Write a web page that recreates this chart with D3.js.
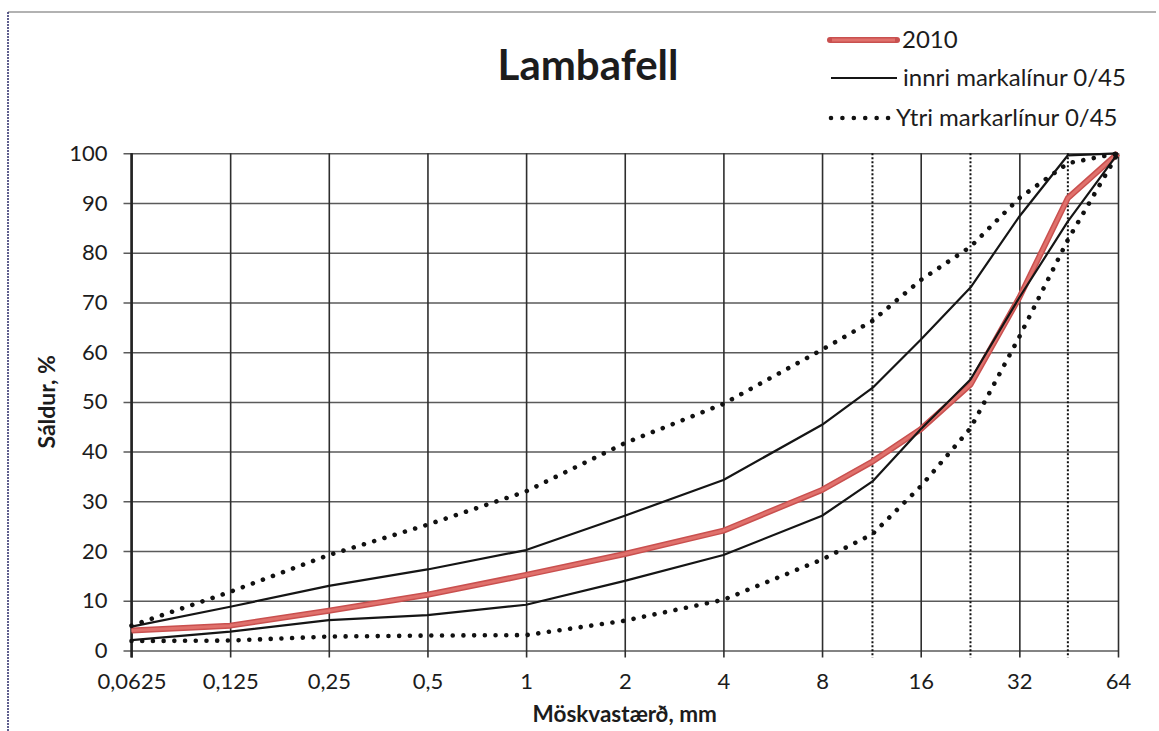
<!DOCTYPE html>
<html>
<head>
<meta charset="utf-8">
<script src="https://cdn.jsdelivr.net/npm/d3@7"></script>
<style>
  body { margin: 0; background: #fff; }
  text { font-family: Lato, "Open Sans", sans-serif; fill: #1c1c1c; }
</style>
</head>
<body>
<svg id="chart" width="1159" height="731"></svg>
<script>
// Sieve sizes (mm) and passing percentages
const sieveSizes = [0.0625, 0.125, 0.25, 0.5, 1, 2, 4, 8, 11.4, 16, 22.7, 32, 45, 64];
const sample2010 = [4, 5, 8, 11.2, 15.2, 19.4, 24.1, 32.3, 38, 44.5, 53.5, 71, 91, 100];
const innerUpper = [4.8, 8.8, 13, 16.3, 20.2, 27.1, 34.3, 45.4, 52.8, 62.5, 73, 87.3, 99.6, 100];
const innerLower = [2.1, 3.8, 6.1, 7.1, 9.2, 14, 19.2, 27.1, 34, 44.5, 54.5, 71, 86.3, 100];
const outerUpper = [5, 11.8, 19.2, 25.3, 32, 41.7, 49.6, 60.5, 66.3, 74.5, 81.2, 91, 98, 100];
const outerLower = [1.9, 2, 2.8, 3, 3.1, 6, 10.2, 18.3, 23.4, 33, 44.7, 63.1, 82.6, 100];

// Axis ticks
const xTicks = [0.0625, 0.125, 0.25, 0.5, 1, 2, 4, 8, 16, 32, 64];
const xTickLabels = ["0,0625", "0,125", "0,25", "0,5", "1", "2", "4", "8", "16", "32", "64"];
const limitSieves = [11.4, 22.7, 45];
const yTicks = [0, 10, 20, 30, 40, 50, 60, 70, 80, 90, 100];

const legendLabels = ["2010", "innri markalínur 0/45", "Ytri markarlínur 0/45"];

const svg = d3.select("#chart");
const plot = { left: 131.5, right: 1118, top: 153.3, bottom: 650.5 };

const x = d3.scaleLog().base(2).domain([0.0625, 64]).range([plot.left, plot.right]);
const y = d3.scaleLinear().domain([0, 100]).range([plot.bottom, plot.top]);

// Page frame
svg.append("line").attr("x1", 8).attr("x2", 1156).attr("y1", 12).attr("y2", 12)
  .attr("stroke", "#666").attr("stroke-width", 1.2);
svg.append("line").attr("x1", 8).attr("x2", 8).attr("y1", 12).attr("y2", 731)
  .attr("stroke", "#2a2a6a").attr("stroke-width", 1.5).attr("stroke-dasharray", "2,1");

// Horizontal gridlines with tick stubs
const yAxis = d3.axisLeft(y).tickValues(yTicks).tickSize(plot.right - plot.left + 8)
  .tickPadding(16).tickFormat(d3.format("d"));
const gy = svg.append("g").attr("transform", `translate(${plot.right},0)`).call(yAxis);
gy.select(".domain").remove();
gy.selectAll(".tick line").attr("stroke", "#5a5a5a").attr("stroke-width", 1.5);
gy.selectAll(".tick text").attr("font-size", 22).style("font-family", "Lato, sans-serif").attr("fill", "#1c1c1c");

// Vertical gridlines with tick stubs
const xAxis = d3.axisBottom(x).tickValues(xTicks).tickSize(plot.bottom - plot.top + 7)
  .tickPadding(16).tickFormat((d, i) => xTickLabels[i]);
const gx = svg.append("g").attr("transform", `translate(0,${plot.top})`).call(xAxis);
gx.select(".domain").remove();
gx.selectAll(".tick line").attr("stroke", "#2e2e2e").attr("stroke-width", 1.6);
gx.selectAll(".tick text").attr("font-size", 22).style("font-family", "Lato, sans-serif").attr("fill", "#1c1c1c");

// Dotted limit sieves
svg.append("g").selectAll("line").data(limitSieves).join("line")
  .attr("x1", d => x(d)).attr("x2", d => x(d))
  .attr("y1", plot.top).attr("y2", plot.bottom + 7)
  .attr("stroke", "#111").attr("stroke-width", 2).attr("stroke-dasharray", "2,2");

// Left axis line
svg.append("line").attr("x1", plot.left).attr("x2", plot.left)
  .attr("y1", plot.top).attr("y2", plot.bottom + 7)
  .attr("stroke", "#222").attr("stroke-width", 2.5);

const line = d3.line().x((d, i) => x(sieveSizes[i])).y(d => y(d));

// 2010 sample
svg.append("path").datum(sample2010).attr("d", line).attr("fill", "none")
  .attr("stroke", "#c9504f").attr("stroke-width", 6).attr("stroke-linejoin", "round");
svg.append("path").datum(sample2010).attr("d", line).attr("fill", "none")
  .attr("stroke", "#e0716c").attr("stroke-width", 3).attr("stroke-linejoin", "round");

// Inner limits
[innerUpper, innerLower].forEach(s => {
  svg.append("path").datum(s).attr("d", line).attr("fill", "none")
    .attr("stroke", "#151515").attr("stroke-width", 2.2).attr("stroke-linejoin", "round");
});

// Outer limits
[outerUpper, outerLower].forEach(s => {
  svg.append("path").datum(s).attr("d", line).attr("fill", "none")
    .attr("stroke", "#111").attr("stroke-width", 4.6).attr("stroke-linecap", "round")
    .attr("stroke-dasharray", "0.01,10.7");
});

// Title
svg.append("text").attr("x", 588).attr("y", 80).attr("text-anchor", "middle")
  .attr("font-size", 42).attr("font-weight", 700).text("Lambafell");

// Axis titles
svg.append("text").attr("x", (plot.left + plot.right) / 2).attr("y", 722)
  .attr("text-anchor", "middle").attr("font-size", 22.5).attr("font-weight", 700)
  .text("Möskvastærð, mm");
svg.append("text").attr("transform", `translate(55,${(plot.top + plot.bottom) / 2}) rotate(-90)`)
  .attr("text-anchor", "middle").attr("font-size", 23).attr("font-weight", 700)
  .text("Sáldur, %");

// Legend
const legend = svg.append("g");
const legendY = [40, 78, 118];
legend.append("line").attr("x1", 830).attr("x2", 897).attr("y1", legendY[0]).attr("y2", legendY[0])
  .attr("stroke", "#c9504f").attr("stroke-width", 6).attr("stroke-linecap", "round");
legend.append("line").attr("x1", 832).attr("x2", 895).attr("y1", legendY[0]).attr("y2", legendY[0])
  .attr("stroke", "#e0716c").attr("stroke-width", 3);
legend.append("line").attr("x1", 831).attr("x2", 897).attr("y1", legendY[1]).attr("y2", legendY[1])
  .attr("stroke", "#151515").attr("stroke-width", 2.2);
legend.append("line").attr("x1", 831).attr("x2", 889).attr("y1", legendY[2]).attr("y2", legendY[2])
  .attr("stroke", "#111").attr("stroke-width", 4.6).attr("stroke-linecap", "round")
  .attr("stroke-dasharray", "0.01,11.4");
const legendX = [902, 903, 896];
legend.selectAll("text").data(legendLabels).join("text")
  .attr("x", (d, i) => legendX[i]).attr("y", (d, i) => legendY[i] + 8)
  .attr("font-size", 24).text(d => d);
</script>
</body>
</html>
